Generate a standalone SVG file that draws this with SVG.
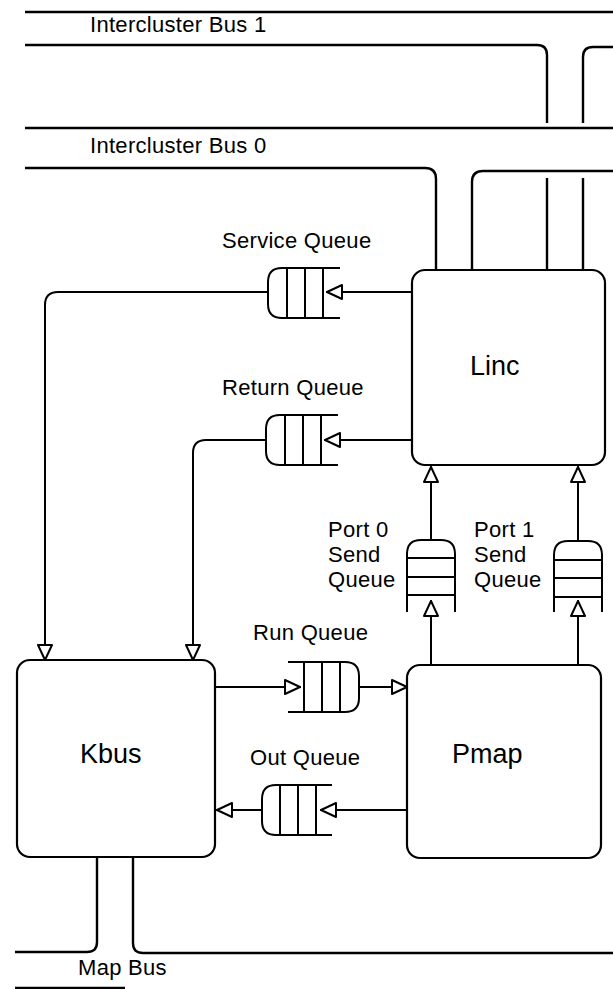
<svg xmlns="http://www.w3.org/2000/svg" width="613" height="989" viewBox="0 0 613 989">
<style>
.ln{fill:none;stroke:#000;stroke-width:2;stroke-linecap:round;stroke-linejoin:round}
.bus{fill:none;stroke:#000;stroke-width:2.4}
.box{fill:#fff;stroke:#000;stroke-width:2.2}
.q{fill:#fff;stroke:#000;stroke-width:2}
.t{font-family:"Liberation Sans",Arial,Helvetica,sans-serif;font-size:22px;letter-spacing:0.3px;fill:#000}
.big{font-family:"Liberation Sans",Arial,Helvetica,sans-serif;font-size:27px;fill:#000}
</style>
<defs>
<marker id="arr" markerUnits="userSpaceOnUse" markerWidth="19" markerHeight="18" viewBox="-2 -2 19 18" refX="15" refY="7" orient="auto">
<path d="M0,0 L15,7 L0,14 Z" fill="#fff" stroke="#000" stroke-width="2" stroke-linejoin="round"/>
</marker>
</defs>
<rect width="613" height="989" fill="#fff"/>

<g id="intercluster-bus-1">
<path class="bus" d="M25,12 H613"/>
<path class="bus" d="M25,45 H537 Q547,45 547,55 V123"/>
<path class="bus" d="M583,123 V57 Q583,47 593,47 H613"/>
<text class="t" x="90" y="32">Intercluster Bus 1</text>
</g>

<g id="intercluster-bus-0">
<path class="bus" d="M25,128 H613"/>
<path class="bus" d="M25,168 H425 Q436,168 436,179 V270"/>
<path class="bus" d="M472,270 V182 Q472,171 483,171 H613"/>
<path class="bus" d="M547,178 V270"/>
<path class="bus" d="M583,178 V270"/>
<text class="t" x="90" y="153">Intercluster Bus 0</text>
</g>

<g id="map-bus">
<path class="bus" d="M15,952 H87 Q97,952 97,942 V857"/>
<path class="bus" d="M133,857 V943 Q133,953 143,953 H613"/>
<path class="bus" d="M15,988 H125"/>
<text class="t" x="78" y="975">Map Bus</text>
</g>

<g id="linc">
<rect class="box" x="412" y="270" width="193" height="195" rx="13"/>
<text class="big" x="470" y="375">Linc</text>
</g>

<g id="kbus">
<rect class="box" x="17" y="660" width="198" height="197" rx="13"/>
<text class="big" x="80" y="763">Kbus</text>
</g>

<g id="pmap">
<rect class="box" x="407" y="665" width="194" height="193" rx="13"/>
<text class="big" x="452" y="763">Pmap</text>
</g>

<g id="service-queue">
<path class="q" d="M340,268 H282 Q268,268 268,282 V304 Q268,318 282,318 H340"/>
<path class="ln" d="M287,268 V318 M305,268 V318 M323,268 V318"/>
<text class="t" x="222" y="248">Service Queue</text>
</g>

<g id="return-queue">
<path class="q" d="M338,415 H280 Q266,415 266,429 V451 Q266,465 280,465 H338"/>
<path class="ln" d="M285,415 V465 M303,415 V465 M321,415 V465"/>
<text class="t" x="222" y="395">Return Queue</text>
</g>

<g id="run-queue">
<path class="q" d="M288,662 H345 Q359,662 359,676 V698 Q359,712 345,712 H288"/>
<path class="ln" d="M304,662 V712 M322,662 V712 M340,662 V712"/>
<text class="t" x="253" y="640">Run Queue</text>
</g>

<g id="out-queue">
<path class="q" d="M332,785 H276 Q262,785 262,799 V821 Q262,835 276,835 H332"/>
<path class="ln" d="M280,785 V835 M298,785 V835 M316,785 V835"/>
<text class="t" x="250" y="765">Out Queue</text>
</g>

<g id="port0-send-queue">
<path class="q" d="M407,612 V554 Q407,540 421,540 H441 Q455,540 455,554 V612"/>
<path class="ln" d="M407,558 H455 M407,577 H455 M407,595 H455"/>
<text class="t" x="328" y="537">Port 0</text>
<text class="t" x="328" y="562">Send</text>
<text class="t" x="328" y="587">Queue</text>
</g>

<g id="port1-send-queue">
<path class="q" d="M554,612 V555 Q554,541 568,541 H588 Q602,541 602,555 V612"/>
<path class="ln" d="M554,560 H602 M554,578 H602 M554,597 H602"/>
<text class="t" x="474" y="537">Port 1</text>
<text class="t" x="474" y="562">Send</text>
<text class="t" x="474" y="587">Queue</text>
</g>

<g id="connectors">
<path class="ln" d="M412,292 H327" marker-end="url(#arr)"/>
<path class="ln" d="M268,292 H58 Q45,292 45,305 V660" marker-end="url(#arr)"/>
<path class="ln" d="M412,440 H325" marker-end="url(#arr)"/>
<path class="ln" d="M266,440 H206 Q193,440 193,453 V660" marker-end="url(#arr)"/>
<path class="ln" d="M215,687 H300" marker-end="url(#arr)"/>
<path class="ln" d="M359,687 H407" marker-end="url(#arr)"/>
<path class="ln" d="M407,810 H321" marker-end="url(#arr)"/>
<path class="ln" d="M262,810 H217" marker-end="url(#arr)"/>
<path class="ln" d="M431,665 V601" marker-end="url(#arr)"/>
<path class="ln" d="M431,540 V467" marker-end="url(#arr)"/>
<path class="ln" d="M578,665 V601" marker-end="url(#arr)"/>
<path class="ln" d="M578,541 V467" marker-end="url(#arr)"/>
</g>
</svg>
